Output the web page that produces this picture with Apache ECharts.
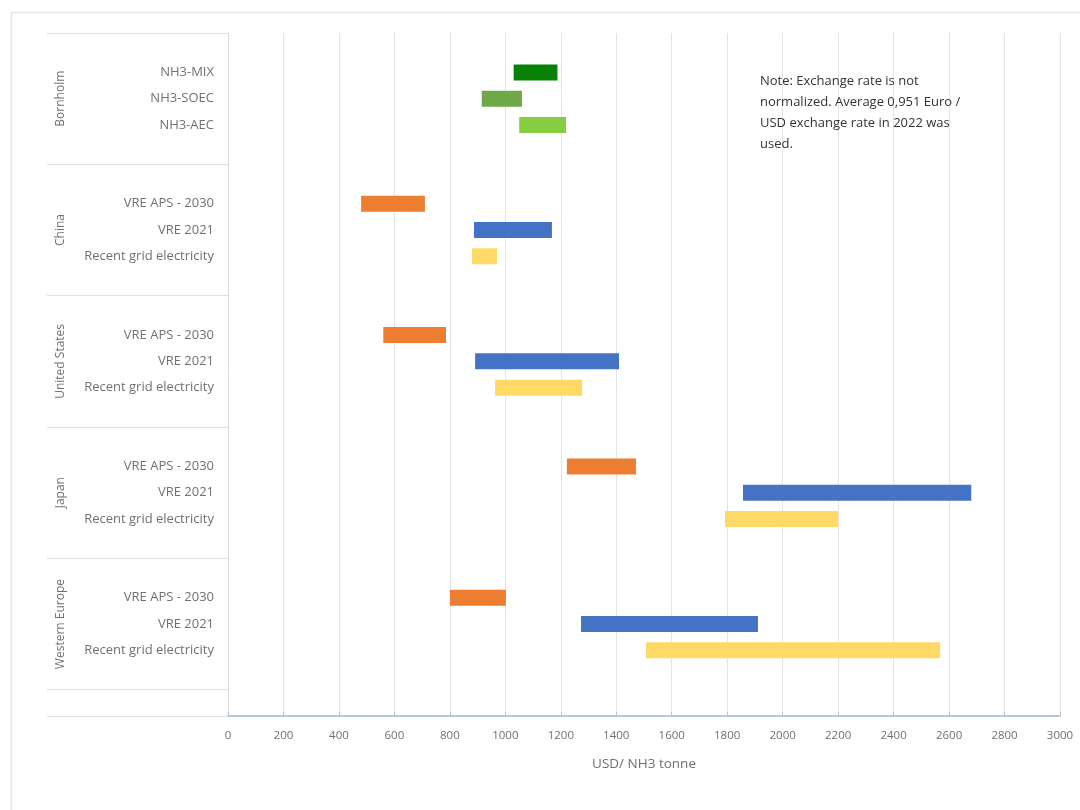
<!DOCTYPE html>
<html>
<head>
<meta charset="utf-8">
<script src="https://cdn.jsdelivr.net/npm/echarts@6/dist/echarts.min.js"></script>
<style>
html,body{margin:0;padding:0;background:#fff;}
#chart{width:1080px;height:810px;}
</style>
</head>
<body>
<div id="chart"></div>
<script>
// Row categories (top to bottom); blank rows are spacers as in the original
const categories = [
  '', 'NH3-MIX', 'NH3-SOEC', 'NH3-AEC', '',
  '', 'VRE APS - 2030', 'VRE 2021', 'Recent grid electricity', '',
  '', 'VRE APS - 2030', 'VRE 2021', 'Recent grid electricity', '',
  '', 'VRE APS - 2030', 'VRE 2021', 'Recent grid electricity', '',
  '', 'VRE APS - 2030', 'VRE 2021', 'Recent grid electricity', '',
  ''
];
// Group labels placed on the middle row of each group
const groupLabels = [
  '', '', 'Bornholm', '', '',
  '', '', 'China', '', '',
  '', '', 'United States', '', '',
  '', '', 'Japan', '', '',
  '', '', 'Western Europe', '', '',
  ''
];
// Range low / high values (USD per NH3 tonne)
const lowValues = [
  null, 1030, 915, 1050, null,
  null, 480, 887, 880, null,
  null, 560, 891, 963, null,
  null, 1222, 1857, 1792, null,
  null, 800, 1273, 1507, null,
  null
];
const highValues = [
  null, 1188, 1060, 1219, null,
  null, 710, 1168, 970, null,
  null, 786, 1410, 1277, null,
  null, 1471, 2680, 2200, null,
  null, 1002, 1911, 2568, null,
  null
];
const rowColors = [
  null, '#078207', '#6fa847', '#86cd41', null,
  null, '#ed7d31', '#4472c4', '#ffd966', null,
  null, '#ed7d31', '#4472c4', '#ffd966', null,
  null, '#ed7d31', '#4472c4', '#ffd966', null,
  null, '#ed7d31', '#4472c4', '#ffd966', null,
  null
];
const xTicks = { min: 0, max: 3000, interval: 200 };
const xAxisTitle = 'USD/ NH3 tonne';
const noteText = 'Note: Exchange rate is not\nnormalized. Average 0,951 Euro /\nUSD exchange rate in 2022 was\nused.';

const groupBoundaries = [0, 5, 10, 15, 20, 25, 26];

const chart = echarts.init(document.getElementById('chart'));
const FONT = '"Open Sans", "Noto Sans", sans-serif';

const option = {
  animation: false,
  backgroundColor: '#ffffff',
  textStyle: { fontFamily: FONT },
  grid: { left: 228, right: 20, top: 33, height: 683, containLabel: false },
  xAxis: {
    type: 'value',
    min: xTicks.min, max: xTicks.max, interval: xTicks.interval,
    axisLine: { show: true, lineStyle: { color: '#9db5dc', width: 1.5 } },
    axisTick: { show: true, inside: true, length: 4, lineStyle: { color: '#bfbfbf' } },
    axisLabel: {
      color: '#707070', fontSize: 11.5, margin: 14, fontFamily: FONT,
      formatter: function (v) { return String(v); }
    },
    splitLine: { show: true, lineStyle: { color: '#e3e3e3', width: 1 } },
    name: xAxisTitle, nameLocation: 'middle', nameGap: 41,
    nameTextStyle: { color: '#6e6e6e', fontSize: 13.5, fontFamily: FONT }
  },
  yAxis: [
    {
      type: 'category', data: categories, inverse: true, position: 'left',
      axisLine: { show: true, lineStyle: { color: '#d9d9d9' } },
      axisTick: {
        show: true, length: 181, alignWithLabel: false,
        interval: function (i) { return groupBoundaries.indexOf(i) >= 0; },
        lineStyle: { color: '#e0e0e0' }
      },
      axisLabel: { color: '#707070', fontSize: 13, margin: 14, interval: 0, fontFamily: FONT },
      splitLine: { show: false }
    },
    {
      type: 'category', data: groupLabels, inverse: true, position: 'left',
      axisLine: { show: false }, axisTick: { show: false },
      axisLabel: { color: '#707070', fontSize: 12, rotate: 90, margin: 161, interval: 0, fontFamily: FONT },
      splitLine: { show: false }
    }
  ],
  series: [
    {
      type: 'bar', stack: 'range', yAxisIndex: 0, barWidth: 16,
      itemStyle: { color: 'transparent' }, silent: true,
      data: lowValues
    },
    {
      type: 'bar', stack: 'range', yAxisIndex: 0, barWidth: 16,
      data: highValues.map(function (h, i) {
        if (h == null || lowValues[i] == null) return null;
        return { value: h - lowValues[i], itemStyle: { color: rowColors[i] } };
      })
    }
  ],
  graphic: [
    {
      type: 'rect', left: 9, top: 10, silent: true, z: -10,
      shape: { width: 1200, height: 900 },
      style: { fill: 'none', stroke: '#e4e4e4', lineWidth: 1.5 }
    },
    {
      type: 'text', left: 760, top: 71, z: 10,
      style: { text: noteText, fill: '#333333', font: '13px ' + FONT, lineHeight: 21 }
    }
  ]
};
chart.setOption(option);
</script>
</body>
</html>
